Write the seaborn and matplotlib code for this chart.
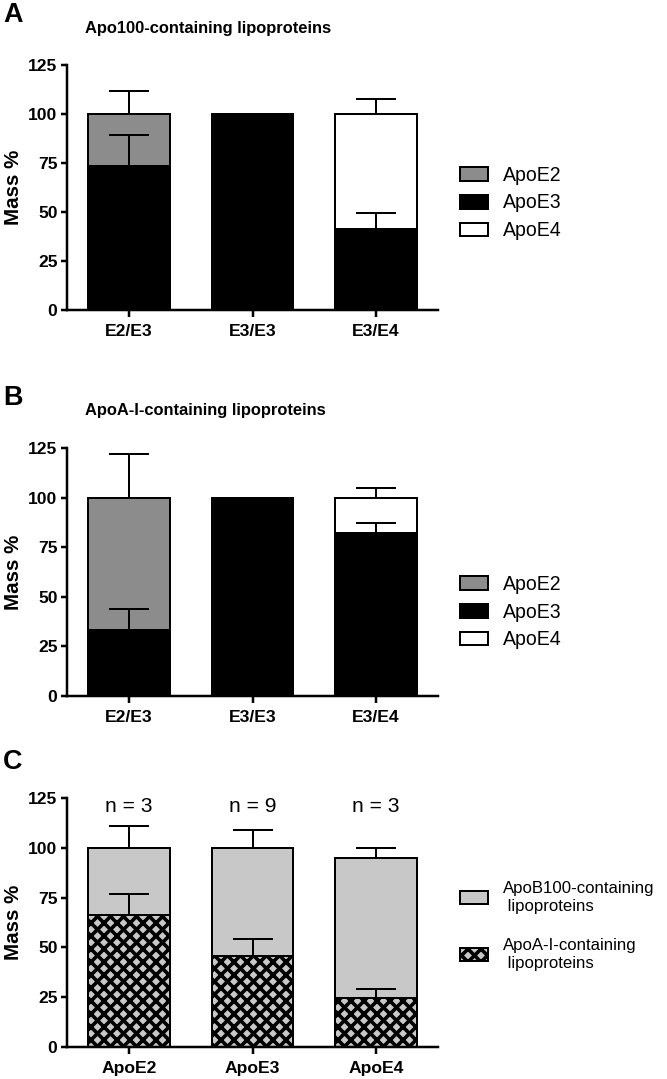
"""
Mass % of apoE isoforms in lipoprotein fractions (panels A-C)
"""
import numpy as np
import pandas as pd
import matplotlib
matplotlib.use("Agg")
import matplotlib.pyplot as plt
from matplotlib.patches import Patch
import seaborn as sns

# ---- data ----
GENOTYPES = ["E2/E3", "E3/E3", "E3/E4"]
ISOFORMS = ["ApoE2", "ApoE3", "ApoE4"]

# panel A: ApoB100-containing lipoproteins
A_APOE3 = [73.5, 100, 41.4]
A_OTHER = [26.5, 0, 58.6]            # ApoE2 in E2/E3, ApoE4 in E3/E4
A_OTHER_NAME = ["ApoE2", None, "ApoE4"]
A_ERR_TOTAL = [11.8, 0, 7.9]
A_ERR_APOE3 = [15.6, 0, 7.9]

# panel B: ApoA-I-containing lipoproteins
B_APOE3 = [33.5, 100, 82.0]
B_OTHER = [66.5, 0, 18.0]
B_OTHER_NAME = ["ApoE2", None, "ApoE4"]
B_ERR_TOTAL = [22.1, 0, 5.0]
B_ERR_APOE3 = [10.6, 0, 5.0]

# panel C: distribution of each isoform between fractions
C_GROUPS = ["ApoE2", "ApoE3", "ApoE4"]
C_APOAI = [66.3, 45.5, 24.5]
C_APOB = [33.7, 54.5, 70.5]
C_ERR_TOTAL = [10.9, 8.9, 5.0]
C_ERR_APOAI = [10.7, 8.5, 4.7]
C_N = [3, 9, 3]
C_LABELS = ["ApoB100-containing\n lipoproteins", "ApoA-I-containing\n lipoproteins"]

YTICKS = [0, 25, 50, 75, 100, 125]
COLORS = {"ApoE2": "#8c8c8c", "ApoE3": "black", "ApoE4": "white"}
LIGHT = "#c8c8c8"

# ---- sizes (worked out in pixels, converted to points) ----
W, H, DPI = 667, 1079, 78


def px(v):
    return v * 72 / DPI


def box(top, bottom, left=67, right=438):
    return [left / W, 1 - bottom / H, (right - left) / W, (bottom - top) / H]


sns.set_theme(style="ticks")
plt.rcParams["font.family"] = ["Liberation Sans", "DejaVu Sans"]
for k in ["text.color", "axes.labelcolor", "xtick.color", "ytick.color", "axes.edgecolor"]:
    plt.rcParams[k] = "black"
plt.rcParams["hatch.linewidth"] = px(3.6)

fig = plt.figure(figsize=(W / DPI, H / DPI), dpi=DPI)
axA = fig.add_axes(box(65, 310))
axB = fig.add_axes(box(448, 696))
axC = fig.add_axes(box(798, 1047))


def style_axis(ax):
    ax.set_xlim(-0.5, 2.5)
    ax.set_ylim(0, 125)
    ax.set_yticks(YTICKS)
    ax.set_xlabel("")
    ax.set_ylabel("Mass %", fontsize=px(20.5), fontweight="bold", labelpad=px(5))
    sns.despine(ax=ax)
    for s in ["left", "bottom"]:
        ax.spines[s].set_linewidth(px(2.5))
    ax.tick_params(axis="both", width=px(2.5), length=px(6.5), labelsize=px(17.5), pad=px(3))
    ax.tick_params(axis="x", pad=px(8))
    for lbl in ax.get_xticklabels() + ax.get_yticklabels():
        lbl.set_fontweight("bold")


def up_errors(ax, tops, errs):
    pos = np.arange(len(tops))
    tops = np.asarray(tops, float)
    errs = np.asarray(errs, float)
    m = errs > 0
    ax.errorbar(pos[m], tops[m], yerr=[np.zeros(m.sum()), errs[m]], fmt="none",
                ecolor="black", elinewidth=px(2), capsize=px(20), capthick=px(2), zorder=5)


def isoform_panel(ax, apoe3, other, other_name, err_total, err_e3):
    rows = []
    for g, e3, o, name in zip(GENOTYPES, apoe3, other, other_name):
        if name is not None:
            rows.append((g, name, e3 + o))
        rows.append((g, "ApoE3", e3))
    df = pd.DataFrame(rows, columns=["genotype", "isoform", "height"])
    sns.barplot(data=df, x="genotype", y="height", hue="isoform", order=GENOTYPES,
                hue_order=["ApoE2", "ApoE4", "ApoE3"], palette=COLORS, dodge=False,
                width=0.66, edgecolor="black", linewidth=px(2), saturation=1,
                legend=False, ax=ax)
    totals = [a + b for a, b in zip(apoe3, other)]
    up_errors(ax, totals, err_total)
    up_errors(ax, apoe3, err_e3)
    style_axis(ax)
    handles = [Patch(facecolor=COLORS[i], edgecolor="black", linewidth=px(2)) for i in ISOFORMS]
    return handles


def add_legend(ax, handles, labels, ycenter, spacing, fs):
    ax.legend(handles, labels, loc="center left", bbox_to_anchor=(460 / W, 1 - ycenter / H),
              bbox_transform=fig.transFigure, frameon=False, fontsize=px(fs),
              handlelength=28 / fs, handleheight=14 / fs, handletextpad=15 / fs,
              labelspacing=spacing, borderpad=0, borderaxespad=0)


hA = isoform_panel(axA, A_APOE3, A_OTHER, A_OTHER_NAME, A_ERR_TOTAL, A_ERR_APOE3)
add_legend(axA, hA, ISOFORMS, 203, 0.45, 19.5)
hB = isoform_panel(axB, B_APOE3, B_OTHER, B_OTHER_NAME, B_ERR_TOTAL, B_ERR_APOE3)
add_legend(axB, hB, ISOFORMS, 612, 0.45, 19.5)

# panel C
totals_c = [a + b for a, b in zip(C_APOAI, C_APOB)]
sns.barplot(x=C_GROUPS, y=totals_c, color=LIGHT, width=0.66, edgecolor="black",
            linewidth=px(2), saturation=1, ax=axC)
n_before = len(axC.patches)
sns.barplot(x=C_GROUPS, y=C_APOAI, color=LIGHT, width=0.66, edgecolor="black",
            linewidth=px(2), saturation=1, ax=axC)
for bar in axC.patches[n_before:]:
    bar.set_hatch("xx")
up_errors(axC, totals_c, C_ERR_TOTAL)
up_errors(axC, C_APOAI, C_ERR_APOAI)
style_axis(axC)
for i, n in enumerate(C_N):
    axC.text(i, 120.5, f"n = {n}", ha="center", va="center", fontsize=px(21))
hC = [Patch(facecolor=LIGHT, edgecolor="black", linewidth=px(2)),
      Patch(facecolor=LIGHT, edgecolor="black", linewidth=px(2), hatch="xx")]
add_legend(axC, hC, C_LABELS, 926, 1.45, 16.8)

# panel letters and titles
for letter, y in [("A", 15), ("B", 398), ("C", 762)]:
    fig.text(3 / W, 1 - y / H, letter, ha="left", va="center", fontsize=px(27), fontweight="bold")
fig.text(85 / W, 1 - 28 / H, "Apo100-containing lipoproteins", ha="left", va="center",
         fontsize=px(16.5), fontweight="bold")
fig.text(85 / W, 1 - 411 / H, "ApoA-I-containing lipoproteins", ha="left", va="center",
         fontsize=px(16.5), fontweight="bold")

fig.savefig("out.png", dpi=DPI)
